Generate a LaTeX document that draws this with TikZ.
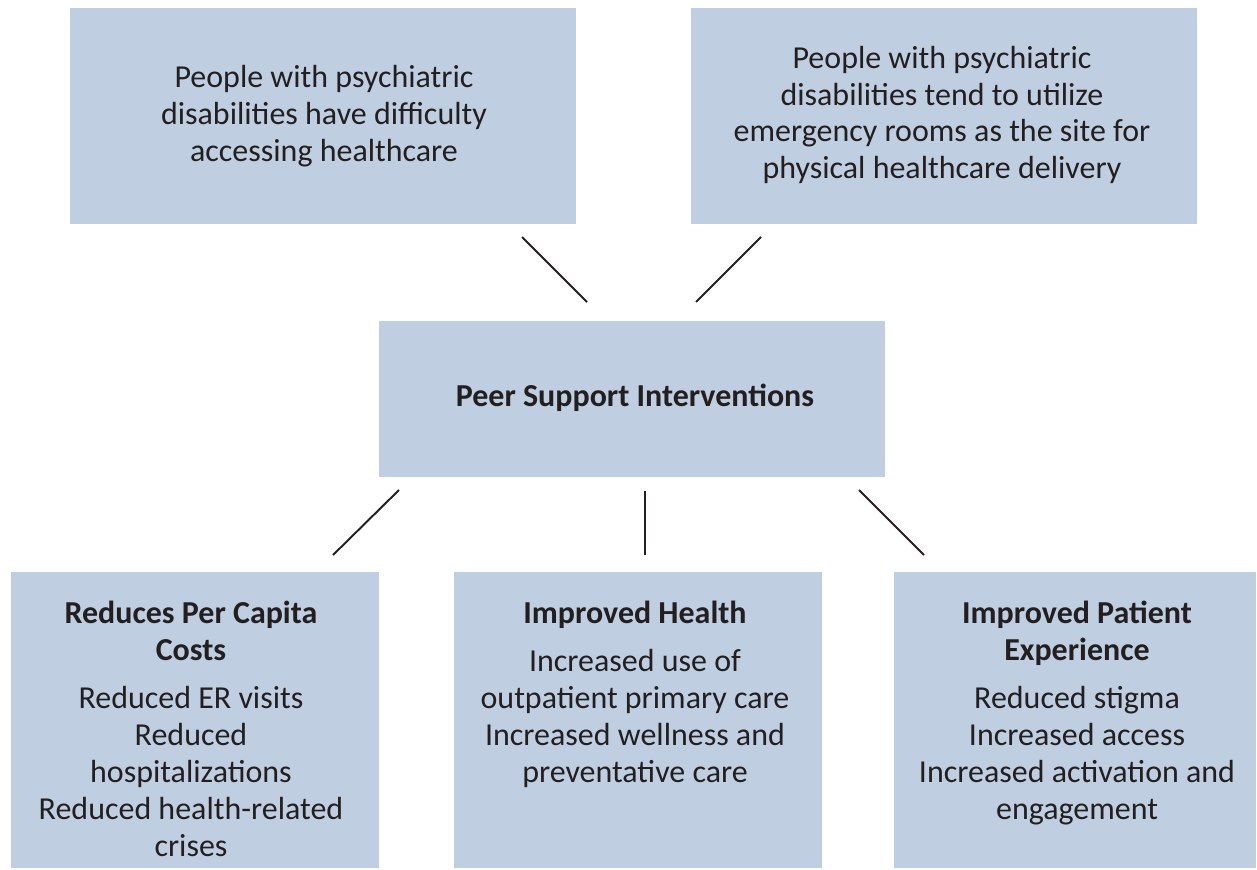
\documentclass[tikz,border=0pt]{standalone}
\usepackage{fontspec}
\setmainfont{Carlito}
\definecolor{boxfill}{HTML}{BFCFE1}
\definecolor{ink}{HTML}{231F20}
\begin{document}
\begin{tikzpicture}[x=0.02cm,y=-0.02cm,
  panel/.style={fill=boxfill,draw=none},
  txt/.style={text=ink,align=center,inner sep=0pt,font=\fontsize{18.2}{21}\selectfont},
  ttl/.style={txt,font=\fontsize{18.2}{21}\selectfont\bfseries},
  link/.style={draw=ink,line width=1.1pt}]
\useasboundingbox (0,0) rectangle (1257,869);
% boxes
\fill[panel] (70,8) rectangle (576,224);
\fill[panel] (691,8) rectangle (1197,224);
\fill[panel] (379,321) rectangle (885,477);
\fill[panel] (11,572) rectangle (379,868);
\fill[panel] (454,572) rectangle (822,868);
\fill[panel] (894,572) rectangle (1256,868);
% texts
\node[txt] (tl) at (324,116.5) {People with psychiatric\\disabilities have difficulty\\accessing healthcare};
\node[txt] (tr) at (942,115) {People with psychiatric\\disabilities tend to utilize\\emergency rooms as the site for\\physical healthcare delivery};
\node[ttl] (peer) at (635,398) {Peer Support Interventions};
\node[ttl,anchor=base] (blt) at (191,660) {Reduces Per Capita\\Costs};
\node[txt,anchor=base] (blb) at (191,856) {Reduced ER visits\\Reduced\\hospitalizations\\Reduced health-related\\crises};
\node[ttl,anchor=base] (bmt) at (635,623) {Improved Health};
\node[txt,anchor=base] (bmb) at (635,782) {Increased use of\\outpatient primary care\\Increased wellness and\\preventative care};
\node[ttl,anchor=base] (brt) at (1077,660) {Improved Patient\\Experience};
\node[txt,anchor=base] (brb) at (1077,819) {Reduced stigma\\Increased access\\Increased activation and\\engagement};
% connector ends
\coordinate (a1) at (522,237); \coordinate (a2) at (587,302);
\coordinate (b1) at (761,237); \coordinate (b2) at (696,302);
\coordinate (c1) at (399,490); \coordinate (c2) at (333,555);
\coordinate (d1) at (645,491); \coordinate (d2) at (645,555);
\coordinate (e1) at (859,490); \coordinate (e2) at (924,555);
\draw[link] (a1) -- (a2);
\draw[link] (b1) -- (b2);
\draw[link] (c1) -- (c2);
\draw[link] (d1) -- (d2);
\draw[link] (e1) -- (e2);
\end{tikzpicture}
\end{document}
